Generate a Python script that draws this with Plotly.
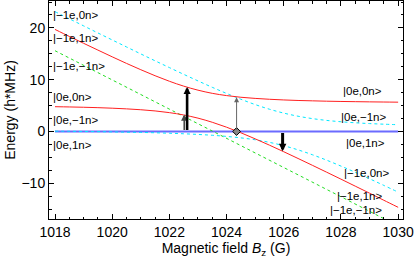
import plotly.graph_objects as go

# Magnetic field (G)
B = [1018, 1018.5, 1019, 1019.5, 1020, 1020.5, 1021, 1021.5, 1022, 1022.5, 1023, 1023.5,
     1024, 1024.5, 1025, 1025.5, 1026, 1026.5, 1027, 1027.5, 1028, 1028.5, 1029, 1029.5, 1030]

# Energies (h*MHz)
red_upper = [19.71, 18.36, 17.03, 15.72, 14.42, 13.15, 11.93, 10.77, 9.70, 8.76, 7.98, 7.37,
             6.93, 6.61, 6.39, 6.22, 6.09, 5.99, 5.92, 5.85, 5.80, 5.76, 5.72, 5.69, 5.66]
red_lower = [4.79, 4.74, 4.68, 4.60, 4.50, 4.37, 4.20, 3.97, 3.64, 3.19, 2.58, 1.78,
             0.83, -0.25, -1.42, -2.64, -3.91, -5.21, -6.53, -7.86, -9.20, -10.56, -11.91, -13.28, -14.64]
cyan_upper = [23.14, 21.77, 20.40, 19.03, 17.68, 16.33, 14.98, 13.65, 12.34, 11.04, 9.77, 8.53,
              7.35, 6.23, 5.20, 4.30, 3.55, 2.95, 2.49, 2.14, 1.88, 1.68, 1.53, 1.41, 1.31]
cyan_lower = [0.06, 0.04, 0.00, -0.03, -0.08, -0.13, -0.18, -0.25, -0.34, -0.44, -0.57, -0.73,
              -0.95, -1.23, -1.60, -2.10, -2.75, -3.55, -4.49, -5.54, -6.68, -7.88, -9.13, -10.41, -11.71]
green = [15.6, 14.19, 12.78, 11.37, 9.96, 8.55, 7.14, 5.73, 4.32, 2.91, 1.50, 0.09,
         -1.32, -2.73, -4.14, -5.55, -6.96, -8.37, -9.78, -11.19, -12.60, -14.01, -15.42, -16.83, -18.24]
blue = [0.0] * len(B)

# Transition arrows: field, start energy, end energy
arrow_B = [1022.52, 1022.62, 1024.35, 1025.96]
arrow_E0 = [0.0, 0.0, 0.0, 0.0]
arrow_E1 = [3.3, 8.6, 6.6, -3.8]
arrow_color = ["#444444", "black", "#666666", "black"]
arrow_width = [1.6, 2.6, 1.0, 3.0]
arrow_size = [0.8, 0.55, 1.0, 0.5]

marker_B = [1024.35]
marker_E = [0.0]

# State labels
left_labels = ["|−1e,0n>", "|−1e,1n>", "|−1e,−1n>", "|0e,0n>", "|0e,−1n>", "|0e,1n>"]
left_E = [22.5, 18.1, 12.7, 6.6, 2.2, -2.7]
right_labels = ["|0e,0n>", "|0e,−1n>", "|0e,1n>", "|−1e,0n>", "|−1e,1n>", "|−1e,−1n>"]
right_E = [7.9, 2.75, -2.25, -8.1, -12.5, -15.1]
right_B = [1029.5, 1029.65, 1029.6, 1029.75, 1029.5, 1029.5]

x_ticks = [1018, 1020, 1022, 1024, 1026, 1028, 1030]
y_ticks = [-10, 0, 10, 20]

fig = go.Figure()
fig.add_trace(go.Scatter(x=B, y=blue, mode="lines", line=dict(color="#6b6bff", width=2.2)))
fig.add_trace(go.Scatter(x=B, y=green, mode="lines", line=dict(color="#22dd22", width=1, dash="dot")))
fig.add_trace(go.Scatter(x=B, y=cyan_upper, mode="lines", line=dict(color="#00e8ff", width=1, dash="dot", shape="spline")))
fig.add_trace(go.Scatter(x=B, y=cyan_lower, mode="lines", line=dict(color="#00e8ff", width=1, dash="dot", shape="spline")))
fig.add_trace(go.Scatter(x=B, y=red_upper, mode="lines", line=dict(color="#ff2020", width=1, shape="spline")))
fig.add_trace(go.Scatter(x=B, y=red_lower, mode="lines", line=dict(color="#ff2020", width=1, shape="spline")))
fig.add_trace(go.Scatter(x=marker_B, y=marker_E, mode="markers",
                         marker=dict(symbol="diamond", size=6, color="#888888",
                                     line=dict(color="black", width=1))))

for b, e0, e1, c, w, s in zip(arrow_B, arrow_E0, arrow_E1, arrow_color, arrow_width, arrow_size):
    fig.add_annotation(x=b, y=e1, ax=b, ay=e0, xref="x", yref="y", axref="x", ayref="y",
                       showarrow=True, arrowhead=2, arrowsize=s, arrowwidth=w,
                       arrowcolor=c, text="")

lab_font = dict(family="Liberation Sans, Arial, sans-serif", size=11.5, color="black")
for t, e in zip(left_labels, left_E):
    fig.add_annotation(x=1017.87, y=e, xref="x", yref="y", text=t, showarrow=False,
                       xanchor="left", yanchor="middle", font=lab_font)
for t, e, b in zip(right_labels, right_E, right_B):
    fig.add_annotation(x=b, y=e, xref="x", yref="y", text=t, showarrow=False,
                       xanchor="right", yanchor="middle", font=lab_font)

axis_common = dict(showline=True, linecolor="black", linewidth=1, mirror="allticks",
                   ticks="inside", ticklen=5, tickcolor="black", showgrid=False, zeroline=False,
                   tickfont=dict(family="Liberation Sans, Arial, sans-serif", size=14, color="black"))

fig.update_layout(
    width=415, height=259,
    margin=dict(l=49, r=12, t=1, b=40),
    paper_bgcolor="white", plot_bgcolor="white",
    showlegend=False,
    font=dict(family="Liberation Sans, Arial, sans-serif", size=14, color="black"),
    xaxis=dict(range=[1017.79, 1030.17], tickvals=x_ticks,
               minor=dict(ticks="inside", dtick=0.5, ticklen=2.5, tickcolor="black"),
               title=dict(text="Magnetic field <i>B</i><sub>z</sub> (G)", standoff=4,
                          font=dict(size=14)),
               **axis_common),
    yaxis=dict(range=[-16.9, 25.2], tickvals=y_ticks,
               minor=dict(ticks="inside", dtick=2.5, ticklen=2.5, tickcolor="black"),
               title=dict(text="Energy (h*MHz)", standoff=2, font=dict(size=14)),
               **axis_common),
)

fig.write_html("out.html", config={"displayModeBar": False},
               post_script="document.body.style.margin='0';document.body.style.overflow='hidden';")
